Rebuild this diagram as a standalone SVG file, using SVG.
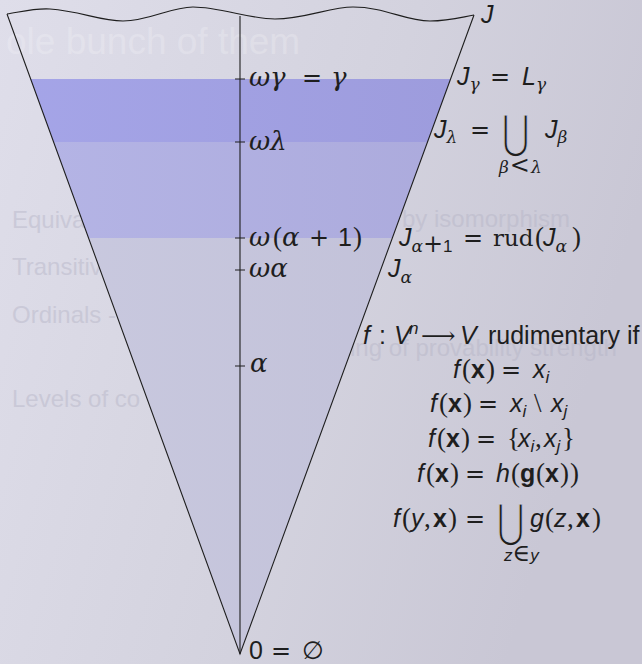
<svg xmlns="http://www.w3.org/2000/svg" width="642" height="664" viewBox="0 0 642 664">
<defs>
<linearGradient id="bg" x1="0" y1="0" x2="1" y2="0.3">
<stop offset="0" stop-color="#dfdeea"/>
<stop offset="0.6" stop-color="#d3d2de"/>
<stop offset="1" stop-color="#c9c7d5"/>
</linearGradient>
<linearGradient id="low" x1="0" y1="0" x2="1" y2="0">
<stop offset="0" stop-color="#cacae0"/>
<stop offset="1" stop-color="#bebdd5"/>
</linearGradient>
<linearGradient id="mid" x1="0" y1="0" x2="1" y2="0">
<stop offset="0" stop-color="#b5b5e6"/>
<stop offset="1" stop-color="#a8a6d8"/>
</linearGradient>
<linearGradient id="dark" x1="0" y1="0" x2="1" y2="0">
<stop offset="0" stop-color="#a5a5e8"/>
<stop offset="1" stop-color="#9a98d8"/>
</linearGradient>
<clipPath id="cone"><polygon points="7,14 474,15 240,654"/></clipPath>
</defs>
<style>
.ln{fill:none;stroke:#1e1e1e;stroke-width:1.1}
.bgt{font-family:"Liberation Sans",Arial,sans-serif;font-size:24px;fill:#b5b4c6;opacity:0.45}
.bgw{font-family:"Liberation Sans",Arial,sans-serif;font-size:37px;fill:#ffffff;opacity:0.2}
.t{font-family:"Liberation Sans",Arial,sans-serif;font-size:25px;fill:#1e1e1e}
.i{font-style:italic}
.b{font-weight:bold}
.gk{font-family:"DejaVu Serif",serif;font-style:italic;font-size:26px}
.gs{font-family:"DejaVu Serif",serif;font-style:italic;font-size:17px}
.eq{font-family:"DejaVu Serif",serif;font-style:normal;font-size:24px}
.op{font-family:"Liberation Serif","Times New Roman",serif;font-style:normal;font-size:27px}
.rud{font-family:"DejaVu Serif",serif;font-style:normal;font-size:23px}
.sub{font-size:17px}
.ss{font-family:"Liberation Sans",Arial,sans-serif;font-style:italic;font-size:17px}
.big{font-family:"DejaVu Sans",sans-serif;font-size:46px;font-style:normal;stroke:#d0cfdc;stroke-width:1}
</style>
<rect width="642" height="664" fill="url(#bg)"/>
<g id="background-text">
<text class="bgw" x="6" y="54">ole bunch of them</text>
<text class="bgt" x="12" y="228">Equiva</text>
<text class="bgt" x="402" y="227">by isomorphism</text>
<text class="bgt" x="12" y="275">Transitiv</text>
<text class="bgt" x="12" y="323">Ordinals -</text>
<text class="bgt" x="350" y="356">ing of provability strength</text>
<text class="bgt" x="12" y="407">Levels of co</text>
</g>
<g id="cone-fill" clip-path="url(#cone)">
<rect x="0" y="238" width="642" height="420" fill="url(#low)"/>
<rect x="0" y="142" width="642" height="96" fill="url(#mid)"/>
<rect x="0" y="79" width="642" height="63" fill="url(#dark)"/>
</g>
<g id="cone">
<path class="ln" d="M7,14 L240,654 L474,15"/>
<path class="ln" d="M7,14 C20,12 35,8 50,9 C80,11 100,21 123,21 C150,21 170,7 193,7 C220,7 250,19 275,19 C305,19 330,7 353,7 C385,7 405,21 430,21 C450,21 462,17 474,15"/>
<line class="ln" x1="240" y1="16" x2="240" y2="654"/>
<path class="ln" d="M235,79 H245 M235,142 H245 M235,238 H245 M235,270 H245 M235,366 H245"/>
</g>
<g id="axis-labels" class="t">
<text x="249" y="86"><tspan class="gk">ω</tspan><tspan class="gk" x="270">γ</tspan><tspan class="eq" x="302">=</tspan><tspan class="gk" x="331">γ</tspan></text>
<text x="249" y="150"><tspan class="gk">ωλ</tspan></text>
<text x="249" y="246"><tspan class="gk">ω</tspan><tspan class="op" x="273">(</tspan><tspan class="gk" x="282">α</tspan><tspan class="eq" x="309">+</tspan><tspan x="338">1</tspan><tspan class="op" x="353">)</tspan></text>
<text x="249" y="277"><tspan class="gk">ωα</tspan></text>
<text x="250" y="372"><tspan class="gk">α</tspan></text>
<text x="249" y="659">0<tspan class="eq" x="271">=</tspan><tspan x="302" font-family="DejaVu Sans">∅</tspan></text>
</g>
<g id="level-labels" class="t">
<text class="i" x="481" y="23">J</text>
<text x="457" y="85"><tspan class="i">J</tspan><tspan class="gs" dy="5">γ</tspan><tspan class="eq" x="490" dy="-5">=</tspan><tspan class="i" x="522">L</tspan><tspan class="gs" dy="5">γ</tspan></text>
<text x="434" y="138"><tspan class="i">J</tspan><tspan class="gs" dy="5">λ</tspan><tspan class="eq" x="470" dy="-5">=</tspan><tspan class="i" x="545">J</tspan><tspan class="gs" dy="5">β</tspan></text>
<text class="big" transform="translate(502,148) scale(0.72,1)" x="0" y="0">⋃</text>
<text x="499" y="173"><tspan class="gs">β</tspan><tspan class="eq" font-size="17" dx="1">&lt;</tspan><tspan class="gs" dx="1">λ</tspan></text>
<text x="399" y="246"><tspan class="i">J</tspan><tspan class="gs" dy="6">α</tspan><tspan class="eq" font-size="17">+</tspan><tspan class="sub">1</tspan><tspan class="eq" x="463" dy="-6">=</tspan><tspan class="rud" x="493">rud</tspan><tspan class="op" x="535">(</tspan><tspan class="i" x="543">J</tspan><tspan class="gs" dy="6">α</tspan><tspan class="op" x="572" dy="-6">)</tspan></text>
<text x="388" y="277"><tspan class="i">J</tspan><tspan class="gs" dy="6">α</tspan></text>
</g>
<g id="rudimentary" class="t">
<text x="363" y="344"><tspan class="i">f</tspan><tspan x="379">:</tspan><tspan class="i" x="394">V</tspan><tspan class="ss" x="409" dy="-10">n</tspan><tspan class="eq" x="421" dy="10">⟶</tspan><tspan class="i" x="460">V</tspan><tspan x="481"> rudimentary if</tspan></text>
<text x="453" y="378"><tspan class="i">f</tspan><tspan class="op" x="462">(</tspan><tspan class="b" x="471">x</tspan><tspan class="op" x="486">)</tspan><tspan class="eq" x="501">=</tspan><tspan class="i" x="533">x</tspan><tspan class="ss" dy="5">i</tspan></text>
<text x="430" y="412"><tspan class="i">f</tspan><tspan class="op" x="439">(</tspan><tspan class="b" x="448">x</tspan><tspan class="op" x="463">)</tspan><tspan class="eq" x="478">=</tspan><tspan class="i" x="510">x</tspan><tspan class="ss" dy="5">i</tspan><tspan class="op" x="534" dy="-5">\</tspan><tspan class="i" x="551">x</tspan><tspan class="ss" dy="5">j</tspan></text>
<text x="428" y="447"><tspan class="i">f</tspan><tspan class="op" x="437">(</tspan><tspan class="b" x="446">x</tspan><tspan class="op" x="461">)</tspan><tspan class="eq" x="476">=</tspan><tspan class="op" x="507">{</tspan><tspan class="i" x="518">x</tspan><tspan class="ss" dy="5">i</tspan><tspan class="op" x="535" dy="-5">,</tspan><tspan class="i" x="544">x</tspan><tspan class="ss" dy="5">j</tspan><tspan class="op" x="562" dy="-5">}</tspan></text>
<text x="417" y="482"><tspan class="i">f</tspan><tspan class="op" x="426">(</tspan><tspan class="b" x="435">x</tspan><tspan class="op" x="450">)</tspan><tspan class="eq" x="465">=</tspan><tspan class="i" x="496">h</tspan><tspan class="op" x="511">(</tspan><tspan class="b" x="520">g</tspan><tspan class="op" x="536">(</tspan><tspan class="b" x="545">x</tspan><tspan class="op" x="560">)</tspan><tspan class="op" x="570">)</tspan></text>
<text x="393" y="527"><tspan class="i">f</tspan><tspan class="op" x="402">(</tspan><tspan class="i" x="411">y</tspan><tspan class="op" x="424">,</tspan><tspan class="b" x="433">x</tspan><tspan class="op" x="448">)</tspan><tspan class="eq" x="465">=</tspan><tspan class="i" x="530">g</tspan><tspan class="op" x="545">(</tspan><tspan class="i" x="554">z</tspan><tspan class="op" x="567">,</tspan><tspan class="b" x="576">x</tspan><tspan class="op" x="592">)</tspan></text>
<text class="big" transform="translate(497,537) scale(0.72,1)" x="0" y="0">⋃</text>
<text x="504" y="561"><tspan class="ss">z</tspan><tspan class="eq" font-size="16">∈</tspan><tspan class="ss">y</tspan></text>
</g>
</svg>
